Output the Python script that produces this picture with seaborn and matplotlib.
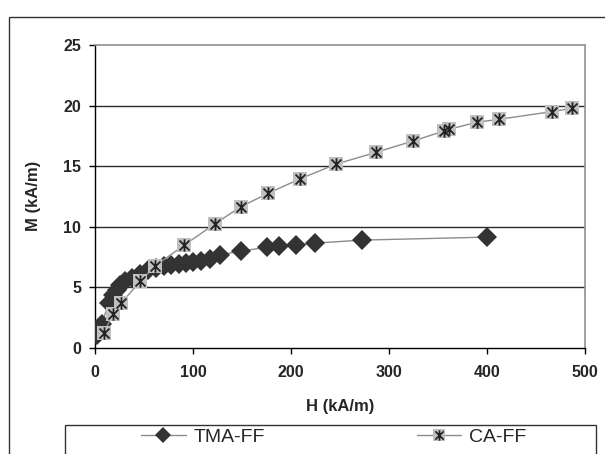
import matplotlib
matplotlib.use("Agg")
import matplotlib.pyplot as plt
from matplotlib.path import Path
from matplotlib.patches import Rectangle
from matplotlib.lines import Line2D
from matplotlib.legend_handler import HandlerTuple
import seaborn as sns
import pandas as pd

# Magnetization curves of the two ferrofluids
tma_h = [2, 7, 14, 18, 22, 26, 31, 38, 46, 54, 62, 70, 78, 86, 93, 100,
         108, 117, 128, 149, 175, 188, 205, 224, 272, 400]
tma_m = [1.1, 2.0, 3.7, 4.4, 4.8, 5.2, 5.5, 5.8, 6.1, 6.4, 6.6, 6.75, 6.85,
         6.95, 7.05, 7.1, 7.2, 7.35, 7.7, 8.0, 8.3, 8.4, 8.5, 8.65, 8.9, 9.15]

ca_h = [9.5, 18, 26.5, 46.3, 61.6, 91.3, 122, 149, 176.4, 208.8, 245.6,
        286.5, 324.6, 356, 361, 389.3, 412.4, 466, 486.4]
ca_m = [1.27, 2.8, 3.68, 5.53, 6.79, 8.5, 10.23, 11.66, 12.76, 13.94, 15.16,
        16.14, 17.08, 17.9, 18.04, 18.62, 18.87, 19.5, 19.77]

series_names = ["TMA-FF", "CA-FF"]
x_ticks = [0, 100, 200, 300, 400, 500]
y_ticks = [0, 5, 10, 15, 20, 25]

tma = pd.DataFrame({"H": tma_h, "M": tma_m})
ca = pd.DataFrame({"H": ca_h, "M": ca_m})

sns.set_theme(style="white")
plt.rcParams["font.family"] = ["Liberation Sans", "DejaVu Sans"]

W, H = 605, 454
fig = plt.figure(figsize=(W / 100, H / 100), dpi=100)
ax = fig.add_axes([95 / W, 1 - 348 / H, 490 / W, 303 / H])

# star marker: vertical bar plus an X
star = Path([(0, -1), (0, 1), (-0.8, -0.8), (0.8, 0.8), (-0.8, 0.8), (0.8, -0.8)],
            [Path.MOVETO, Path.LINETO, Path.MOVETO, Path.LINETO, Path.MOVETO, Path.LINETO])

line_col = "#8c8c8c"
dark = "#333333"
sq_col = "#c0c0c0"

sns.lineplot(data=tma, x="H", y="M", ax=ax, color=line_col, lw=1.0,
             marker="D", markersize=10.5, markerfacecolor=dark,
             markeredgecolor=dark, markeredgewidth=0, zorder=3, sort=False)
sns.lineplot(data=ca, x="H", y="M", ax=ax, color=line_col, lw=1.0,
             marker="s", markersize=10, markerfacecolor=sq_col,
             markeredgecolor=sq_col, markeredgewidth=0, zorder=4, sort=False)
sns.lineplot(data=ca, x="H", y="M", ax=ax, color=dark, linestyle="",
             marker=star, markersize=9, markeredgecolor="#222222",
             markeredgewidth=1.3, zorder=5, sort=False)

ax.set_xlim(0, 500)
ax.set_ylim(0, 25)
ax.set_xticks(x_ticks)
ax.set_yticks(y_ticks)
ax.set_xticklabels([str(v) for v in x_ticks], fontsize=11.5, fontweight="bold")
ax.set_yticklabels([str(v) for v in y_ticks], fontsize=11.5, fontweight="bold")
ax.tick_params(axis="both", direction="out", length=4, width=1, color="black",
               bottom=True, left=True, pad=6)
ax.tick_params(axis="x", pad=8)

for v in y_ticks[1:-1]:
    ax.axhline(v, color="#2a2a2a", lw=1.0, zorder=1)

for side in ["left", "bottom"]:
    ax.spines[side].set_color("black")
    ax.spines[side].set_linewidth(1.0)
for side in ["top", "right"]:
    ax.spines[side].set_color("#909090")
    ax.spines[side].set_linewidth(1.2)

ax.set_xlabel("H (kA/m)", fontsize=12, fontweight="bold")
ax.set_ylabel("M (kA/m)", fontsize=12, fontweight="bold")
ax.xaxis.set_label_coords((340 - 95) / 490, -(399 - 348) / 303)
ax.yaxis.set_label_coords(-(95 - 41) / 490, (348 - 196) / 303)

# chart frame and legend frame
fig.patches.append(Rectangle((9 / W, -0.1), 1.0, 1.1 - 17 / H, transform=fig.transFigure,
                             fill=False, edgecolor="#333333", lw=1.0))
fig.patches.append(Rectangle((65 / W, -0.1), (596 - 65) / W, 0.1 + 1 - 425 / H,
                             transform=fig.transFigure, fill=False,
                             edgecolor="#333333", lw=1.0))

h_tma = Line2D([], [], color=line_col, lw=1.0, marker="D", markersize=8.5,
               markerfacecolor=dark, markeredgewidth=0)
h_ca_sq = Line2D([], [], color=line_col, lw=1.0, marker="s", markersize=9,
                 markerfacecolor=sq_col, markeredgewidth=0)
h_ca_st = Line2D([], [], linestyle="", marker=star, markersize=7.5,
                 markeredgecolor="#222222", markeredgewidth=1.2)
fig.legend([h_tma, (h_ca_sq, h_ca_st)], series_names,
           handler_map={tuple: HandlerTuple(ndivide=1)},
           loc="center left", bbox_to_anchor=(141 / W, 1 - 437 / H),
           ncol=2, frameon=False, fontsize=14, handlelength=2.3,
           handletextpad=0.4, columnspacing=7.8, borderpad=0, borderaxespad=0)

fig.savefig("out.png", dpi=100)
